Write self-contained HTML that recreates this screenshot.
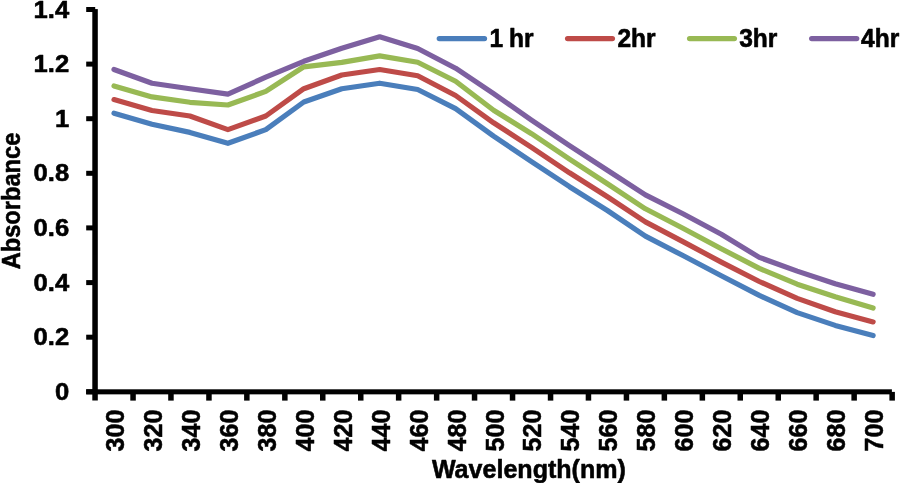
<!DOCTYPE html>
<html><head><meta charset="utf-8"><title>Absorbance vs Wavelength</title>
<style>
html,body{margin:0;padding:0;background:#fff;}
body{width:900px;height:483px;overflow:hidden;}
svg{display:block;opacity:0.999;will-change:transform;}
text{font-family:"Liberation Sans",sans-serif;font-weight:bold;fill:#000;stroke:#000;stroke-width:0.55px;stroke-linejoin:round;}
</style></head><body>
<svg width="900" height="483" viewBox="0 0 900 483">
<rect width="900" height="483" fill="#fff"/>
<polyline points="114.0,113.2 152.0,124.2 189.9,132.4 227.9,143.3 265.8,129.6 303.8,102.0 341.8,88.7 379.7,83.2 417.7,89.5 455.6,108.6 493.6,136.2 531.5,161.6 569.5,186.7 607.4,210.5 645.4,236.1 683.4,255.8 721.3,275.7 759.3,295.4 797.2,312.6 835.2,325.4 873.1,335.5" fill="none" stroke="#4A7EBB" stroke-width="5.2" stroke-linecap="round" stroke-linejoin="round"/>
<polyline points="114.0,99.6 152.0,110.5 189.9,116.0 227.9,129.6 265.8,116.0 303.8,88.7 341.8,75.0 379.7,69.5 417.7,75.8 455.6,95.5 493.6,122.8 531.5,147.4 569.5,172.8 607.4,196.8 645.4,221.9 683.4,241.9 721.3,262.1 759.3,281.5 797.2,298.4 835.2,311.8 873.1,321.9" fill="none" stroke="#BE4B48" stroke-width="5.2" stroke-linecap="round" stroke-linejoin="round"/>
<polyline points="114.0,85.9 152.0,96.9 189.9,102.3 227.9,105.0 265.8,91.4 303.8,66.8 341.8,62.4 379.7,55.9 417.7,62.2 455.6,81.3 493.6,110.2 531.5,133.7 569.5,159.1 607.4,183.7 645.4,208.8 683.4,228.5 721.3,248.7 759.3,268.4 797.2,284.2 835.2,296.8 873.1,308.0" fill="none" stroke="#98B954" stroke-width="5.2" stroke-linecap="round" stroke-linejoin="round"/>
<polyline points="114.0,69.5 152.0,83.2 189.9,88.7 227.9,94.1 265.8,77.2 303.8,61.3 341.8,48.2 379.7,36.8 417.7,48.5 455.6,68.2 493.6,93.6 531.5,120.1 569.5,145.7 607.4,170.3 645.4,194.9 683.4,214.0 721.3,234.2 759.3,257.4 797.2,271.1 835.2,283.7 873.1,294.3" fill="none" stroke="#7D60A0" stroke-width="5.2" stroke-linecap="round" stroke-linejoin="round"/>
<g fill="#000">
<rect x="92.3" y="9.1" width="5.5" height="391.4"/>
<rect x="86.2" y="389.3" width="805.7" height="5.05"/>
<rect x="86.2" y="389.3" width="9" height="5.0"/>
<rect x="86.2" y="334.7" width="9" height="5.0"/>
<rect x="86.2" y="280.1" width="9" height="5.0"/>
<rect x="86.2" y="225.4" width="9" height="5.0"/>
<rect x="86.2" y="170.8" width="9" height="5.0"/>
<rect x="86.2" y="116.2" width="9" height="5.0"/>
<rect x="86.2" y="61.6" width="9" height="5.0"/>
<rect x="86.2" y="7.0" width="9" height="5.0"/>
<rect x="130.3" y="391.9" width="5.5" height="8.7"/>
<rect x="168.2" y="391.9" width="5.5" height="8.7"/>
<rect x="206.2" y="391.9" width="5.5" height="8.7"/>
<rect x="244.1" y="391.9" width="5.5" height="8.7"/>
<rect x="282.1" y="391.9" width="5.5" height="8.7"/>
<rect x="320.0" y="391.9" width="5.5" height="8.7"/>
<rect x="358.0" y="391.9" width="5.5" height="8.7"/>
<rect x="395.9" y="391.9" width="5.5" height="8.7"/>
<rect x="433.9" y="391.9" width="5.5" height="8.7"/>
<rect x="471.8" y="391.9" width="5.5" height="8.7"/>
<rect x="509.8" y="391.9" width="5.5" height="8.7"/>
<rect x="547.8" y="391.9" width="5.5" height="8.7"/>
<rect x="585.7" y="391.9" width="5.5" height="8.7"/>
<rect x="623.7" y="391.9" width="5.5" height="8.7"/>
<rect x="661.6" y="391.9" width="5.5" height="8.7"/>
<rect x="699.6" y="391.9" width="5.5" height="8.7"/>
<rect x="737.5" y="391.9" width="5.5" height="8.7"/>
<rect x="775.5" y="391.9" width="5.5" height="8.7"/>
<rect x="813.4" y="391.9" width="5.5" height="8.7"/>
<rect x="851.4" y="391.9" width="5.5" height="8.7"/>
<rect x="889.4" y="391.9" width="5.5" height="8.7"/>
</g>
<line x1="439.3" y1="38.6" x2="484.5" y2="38.6" stroke="#4A7EBB" stroke-width="5.3" stroke-linecap="round"/>
<line x1="567.6" y1="38.6" x2="612.4" y2="38.6" stroke="#BE4B48" stroke-width="5.3" stroke-linecap="round"/>
<line x1="689.6" y1="38.6" x2="734.4" y2="38.6" stroke="#98B954" stroke-width="5.3" stroke-linecap="round"/>
<line x1="811.7" y1="38.6" x2="856.7" y2="38.6" stroke="#7D60A0" stroke-width="5.3" stroke-linecap="round"/>
<text transform="translate(489.6,46.7) scale(1.045,1.09)" font-size="23.5">1<tspan dx="-1.1"> </tspan>hr</text>
<text transform="translate(617.4,46.7) scale(1.045,1.09)" font-size="23.5">2hr</text>
<text transform="translate(739.2,46.7) scale(1.045,1.09)" font-size="23.5">3hr</text>
<text transform="translate(861.0,46.7) scale(1.045,1.09)" font-size="23.5">4hr</text>
<text transform="translate(69.2,399.9) scale(1.09,1.03)" font-size="23.5" text-anchor="end">0</text>
<text transform="translate(69.2,345.3) scale(1.09,1.03)" font-size="23.5" text-anchor="end">0.2</text>
<text transform="translate(69.2,290.7) scale(1.09,1.03)" font-size="23.5" text-anchor="end">0.4</text>
<text transform="translate(69.2,236.0) scale(1.09,1.03)" font-size="23.5" text-anchor="end">0.6</text>
<text transform="translate(69.2,181.4) scale(1.09,1.03)" font-size="23.5" text-anchor="end">0.8</text>
<text transform="translate(69.2,126.8) scale(1.09,1.03)" font-size="23.5" text-anchor="end">1</text>
<text transform="translate(69.2,72.2) scale(1.09,1.03)" font-size="23.5" text-anchor="end">1.2</text>
<text transform="translate(69.2,17.6) scale(1.09,1.03)" font-size="23.5" text-anchor="end">1.4</text>
<g clip-path="url(#xl)">
<text transform="translate(123.9,451.4) rotate(-90) scale(0.965,0.96)" font-size="26">300</text>
<text transform="translate(161.9,451.4) rotate(-90) scale(0.965,0.96)" font-size="26">320</text>
<text transform="translate(199.8,451.4) rotate(-90) scale(0.965,0.96)" font-size="26">340</text>
<text transform="translate(237.8,451.4) rotate(-90) scale(0.965,0.96)" font-size="26">360</text>
<text transform="translate(275.7,451.4) rotate(-90) scale(0.965,0.96)" font-size="26">380</text>
<text transform="translate(313.7,451.4) rotate(-90) scale(0.965,0.96)" font-size="26">400</text>
<text transform="translate(351.7,451.4) rotate(-90) scale(0.965,0.96)" font-size="26">420</text>
<text transform="translate(389.6,451.4) rotate(-90) scale(0.965,0.96)" font-size="26">440</text>
<text transform="translate(427.6,451.4) rotate(-90) scale(0.965,0.96)" font-size="26">460</text>
<text transform="translate(465.5,451.4) rotate(-90) scale(0.965,0.96)" font-size="26">480</text>
<text transform="translate(503.5,451.4) rotate(-90) scale(0.965,0.96)" font-size="26">500</text>
<text transform="translate(541.4,451.4) rotate(-90) scale(0.965,0.96)" font-size="26">520</text>
<text transform="translate(579.4,451.4) rotate(-90) scale(0.965,0.96)" font-size="26">540</text>
<text transform="translate(617.3,451.4) rotate(-90) scale(0.965,0.96)" font-size="26">560</text>
<text transform="translate(655.3,451.4) rotate(-90) scale(0.965,0.96)" font-size="26">580</text>
<text transform="translate(693.3,451.4) rotate(-90) scale(0.965,0.96)" font-size="26">600</text>
<text transform="translate(731.2,451.4) rotate(-90) scale(0.965,0.96)" font-size="26">620</text>
<text transform="translate(769.2,451.4) rotate(-90) scale(0.965,0.96)" font-size="26">640</text>
<text transform="translate(807.1,451.4) rotate(-90) scale(0.965,0.96)" font-size="26">660</text>
<text transform="translate(845.1,451.4) rotate(-90) scale(0.965,0.96)" font-size="26">680</text>
<text transform="translate(883.0,451.4) rotate(-90) scale(0.965,0.96)" font-size="26">700</text>
</g>
<clipPath id="xl"><rect x="0" y="400" width="900" height="51.5"/></clipPath>
<text transform="translate(19.9,269.3) rotate(-90) scale(0.91,1)" font-size="26">Absorbance</text>
<text transform="translate(431.9,477.7) scale(1.032,1.04)" font-size="24.3">Wavelength(nm)</text>
</svg>
</body></html>
